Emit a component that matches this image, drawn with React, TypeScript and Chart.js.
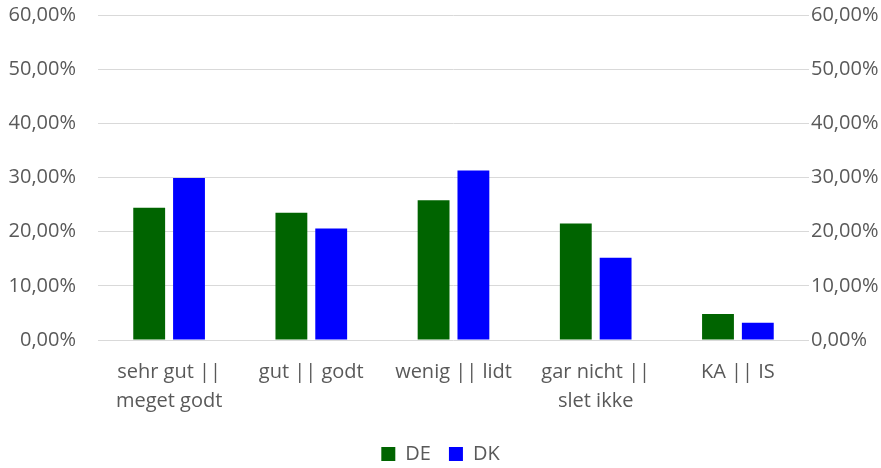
import React, { useEffect, useRef } from "react";
import { Chart, registerables } from "chart.js";

Chart.register(...registerables);

const categories: string[][] = [
  ["sehr gut ||", "meget godt"],
  ["gut || godt"],
  ["wenig || lidt"],
  ["gar nicht ||", "slet ikke"],
  ["KA || IS"],
];
const seriesDE: number[] = [24.4, 23.5, 25.8, 21.5, 4.8];
const seriesDK: number[] = [29.9, 20.6, 31.3, 15.2, 3.2];
const yMin = 0;
const yMax = 60;
const yStep = 10;

const FONT = "'Open Sans', sans-serif";
const TEXT = "#595959";
const GRID = "#d9d9d9";

const fmt = (v: number | string) => Number(v).toFixed(2).replace(".", ",") + "%";

export default function App() {
  const ref = useRef<HTMLCanvasElement>(null);
  useEffect(() => {
    document.body.style.margin = "0";
    const chart = new Chart(ref.current!, {
      type: "bar",
      data: {
        labels: categories,
        datasets: [
          { label: "DE", data: seriesDE, backgroundColor: "#006400", yAxisID: "y" },
          { label: "DK", data: seriesDK, backgroundColor: "#0000ff", yAxisID: "y" },
        ],
      },
      options: {
        animation: false,
        responsive: true,
        maintainAspectRatio: false,
        layout: { padding: { top: 0, left: 0, right: 0, bottom: 0 } },
        datasets: { bar: { categoryPercentage: 0.56, barPercentage: 0.8 } },
        plugins: {
          tooltip: { enabled: false },
          legend: {
            position: "bottom",
            labels: {
              boxWidth: 14,
              boxHeight: 14,
              color: TEXT,
              font: { family: FONT, size: 20 },
              padding: 18,
            },
          },
        },
        scales: {
          x: {
            grid: { display: false },
            border: { display: false },
            ticks: {
              color: TEXT,
              font: { family: FONT, size: 20, lineHeight: 1.45 },
              padding: 10,
              maxRotation: 0,
              autoSkip: false,
            },
          },
          y: {
            position: "left",
            min: yMin,
            max: yMax,
            grid: { color: GRID, lineWidth: 1, drawTicks: false },
            border: { display: false },
            ticks: {
              stepSize: yStep,
              color: TEXT,
              font: { family: FONT, size: 20 },
              padding: 22,
              callback: (v) => fmt(v),
            },
            afterFit: (s: any) => {
              s.width = 98;
            },
          },
          y2: {
            position: "right",
            min: yMin,
            max: yMax,
            grid: { display: false, drawTicks: false },
            border: { display: false },
            ticks: {
              stepSize: yStep,
              color: TEXT,
              font: { family: FONT, size: 20 },
              padding: 2,
              callback: (v) => fmt(v),
            },
            afterFit: (s: any) => {
              s.width = 72;
            },
          },
        },
      },
    });
    return () => chart.destroy();
  }, []);
  return (
    <div style={{ width: 881, height: 468, overflow: "hidden", position: "relative" }}>
      <div style={{ position: "absolute", left: 0, top: -19, width: 881, height: 493 }}>
        <canvas ref={ref} />
      </div>
    </div>
  );
}
